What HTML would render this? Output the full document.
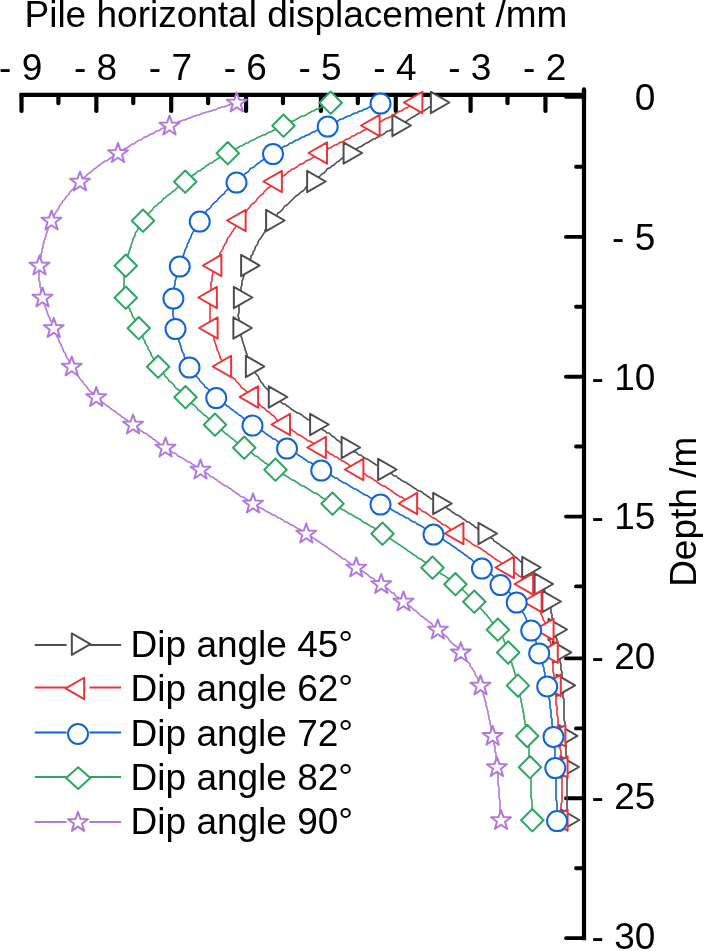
<!DOCTYPE html>
<html lang="en"><head><meta charset="utf-8"><title>Pile horizontal displacement</title>
<style>
html,body{margin:0;padding:0;background:#fff}
body{width:703px;height:951px;overflow:hidden}
svg{display:block}
</style></head><body>
<svg width="703" height="951" viewBox="0 0 703 951">
<rect width="703" height="951" fill="#fff"/>
<g stroke="#000" stroke-width="4.2" stroke-linecap="round" fill="none">
<path d="M19.4 94.8H584" stroke-linecap="butt"/>
<path d="M584 89.4V940.3" stroke-linecap="butt"/>
<path d="M584 89.4V100"/>
<path d="M21.5 95.8V110.9M58.42 95.8V103.2M96.35 95.8V110.9M133.27 95.8V103.2M171.2 95.8V110.9M208.12 95.8V103.2M246.05 95.8V110.9M282.97 95.8V103.2M320.9 95.8V110.9M357.82 95.8V103.2M395.75 95.8V110.9M432.68 95.8V103.2M470.6 95.8V110.9M507.52 95.8V103.2M545.45 95.8V110.9"/>
<path d="M584 96.7H566M584 236.9H566M584 376.8H566M584 516.6H566M584 658.4H566M584 798.3H566M584 938.1H566M584 166.7H576M584 306.8H576M584 446.5H576M584 586.4H576M584 728.4H576M584 868.2H576" stroke-width="3.9"/>
</g>
<g stroke="#4d4d4d" fill="none">
<path d="M437.05 102.5L436 103L435 104L434 105L433 105L432 106L430 107L429 107L428 108L427 109L425 110L424 111L422 111L421 112L419 113L418 114L416 115L415 116L413 117L411 118L410 119L408 120L407 121L405 122L403 123L402 124L400 125L398.55 125.5L397 126L396 127L395 128L393 128L392 129L391 130L389 131L388 131L386 132L385 133L384 134L382 135L381 135L379 136L378 137L376 138L375 139L373 139L372 140L370 141L369 142L367 143L366 143L365 144L363 145L362 146L360 147L359 147L358 148L356 149L355 150L354 151L352 151L351 152L349.75 153L348 154L347 155L345 156L344 157L343 158L341 159L340 160L339 161L337 162L336 163L335 164L334 165L332 166L331 167L330 168L329 168L327 169L326 171L325 172L324 173L322 174L321 175L320 176L319 177L317 178L316 179L315 180L313.3 181.5L312 182L311 183L310 184L309 185L308 186L306 187L305 189L304 190L303 191L301 192L300 193L299 194L298 195L296 196L295 197L294 198L293 199L291 201L290 202L289 203L288 204L287 205L285 206L284 207L283 209L282 210L281 211L280 212L278 213L277 215L276 216L275 217L274 218L273 219L272.3 220.5L271 222L270 223L269 225L268 226L267 227L266 229L265 230L265 232L264 233L263 235L262 236L261 238L260 239L259 240L258 242L258 243L257 245L256 246L255 248L255 249L254 251L253 252L253 254L252 255L251 256L251 258L250 259L249 260L249 262L248 263L248 264L247.3 265.5L247 267L246 269L245 271L245 273L244 274L244 276L243 278L243 279L242 281L242 282L242 284L242 285L241 287L241 288L241 290L241 291L241 293L240 294L240 296L240.05 297.5L240 299L240 301L239 302L239 304L239 305L239 307L239 309L239 310L239 312L239 313L238 315L238 316L239 318L239 319L239 321L239 323L239 324L239 326L239.55 328L240 329L240 331L240 332L241 334L241 335L241 337L242 338L242 340L243 342L243 343L244 345L244 346L245 348L245 350L246 351L246 353L247 354L247 356L248 358L249 359L249 361L250 362L251 364L251 365L252.05 366.5L253 368L254 369L254 371L255 372L256 374L257 375L258 376L259 378L259 379L260 380L261 382L262 383L263 384L264 386L265 387L266 388L267 389L269 391L270 392L271 393L272 394L274 396L274.95 397L276 398L277 399L278 400L279 401L281 402L282 403L283 404L285 404L286 405L287 406L289 407L290 408L291 409L293 410L294 411L296 412L297 413L299 413L300 414L302 415L303 416L304 417L306 418L307 419L309 420L310 420L311 421L313 422L314 423L315 424L316.3 424.5L318 426L319 427L321 428L322 429L323 430L325 431L326 432L327 433L329 433L330 434L331 435L332 436L334 437L335 438L336 439L337 440L339 441L340 442L341 443L342 444L344 445L345 446L346 447L347.8 447.5L349 448L350 449L352 450L353 451L354 452L356 452L357 453L358 454L359 455L361 455L362 456L363 457L365 458L366 459L367 459L369 460L370 461L372 462L373 463L375 464L376 465L378 465L379 466L381 467L383 468L384.3 469.5L385 470L387 471L388 472L389 472L390 473L392 474L393 475L394 476L396 476L397 477L398 478L400 479L401 480L403 481L404 482L405 482L407 483L408 484L410 485L411 486L413 487L414 488L416 489L417 490L419 491L420 491L422 492L423 493L424 494L426 495L427 496L429 497L430 498L431 499L433 499L434 500L435 501L437 502L438 503L439.35 503.5L441 504L442 505L444 506L445 507L447 508L448 509L450 510L451 511L452 512L454 513L455 514L457 515L458 515L459 516L461 517L462 518L463 519L465 520L466 521L467 522L469 522L470 523L471 524L473 525L474 526L475 527L477 528L478 529L479 530L481 531L482 532L483 533L484.65 533.5L486 534L487 535L489 536L490 537L491 538L493 539L494 541L496 542L497 543L499 544L500 545L501 546L503 547L504 548L506 549L507 550L509 551L510 552L511 553L513 555L514 556L515 557L517 558L518 559L519 560L520 561L521 562L523 562L524 563L525 564L526 565L527 566L527 567L528.35 567.5L530 569L532 571L534 573L535 574L536 576L537 577L537 578L538 579L539 580L539 581L540 583L540.75 584L542 586L542 587L543 588L544 590L545 591L545 593L546 594L547 596L547 598L548 600L548.55 601.5L549 603L549 604L550 606L550 607L551 609L551 611L551 613L552 614L552 616L552 618L553 620L553 621L553 623L554 625L554 626L554 628L554.7 629.5L555 631L555 633L556 635L556 636L556 638L557 639L557 641L557 642L558 644L558 645L558 647L558 649L559 650L559 652.3L559 654L559 655L560 657L560 658L560 659L560 661L560 662L561 664L561 666L561 667L561 669L561 670L562 672L562 674L562 676L562 678L562 679L562 681L563 683L562.7 685.4L563 687L563 688L563 690L563 691L563 693L563 694L563 696L563 698L564 699L564 701L564 703L564 705L564 706L564 708L564 710L564 712L564 713L564 715L564 717L564 719L564 720L565 722L565 724L565 725L565 727L565 729L565 730L565 732L565 733L565 734L565.1 735.8L565 738L565 740L565 742L565 743L566 745L566 746L566 748L566 749L566 751L566 752L566 753L566 755L566 756L566 758L566 759L566 761L566 763L567 765L566.6 767L567 768L567 770L567 771L567 773L567 774L567 776L567 778L567 780L567 781L567 783L567 785L567 787L567 789L567 791L567 793L567 795L567 796L567 798L567 800L567 802L567 804L567 805L567 807L567 809L567 810L567 812L567 813L567 815L567 816L567 817L567 818L567 819L567 820" stroke-width="1.6" stroke-linejoin="round"/>
<path d="M430.87 91.8L449.41 102.5L430.87 113.2ZM392.37 114.8L410.91 125.5L392.37 136.2ZM343.57 142.3L362.11 153L343.57 163.7ZM307.12 170.8L325.66 181.5L307.12 192.2ZM266.12 209.8L284.66 220.5L266.12 231.2ZM241.12 254.8L259.66 265.5L241.12 276.2ZM233.87 286.8L252.41 297.5L233.87 308.2ZM233.37 317.3L251.91 328L233.37 338.7ZM245.87 355.8L264.41 366.5L245.87 377.2ZM268.77 386.3L287.31 397L268.77 407.7ZM310.12 413.8L328.66 424.5L310.12 435.2ZM341.62 436.8L360.16 447.5L341.62 458.2ZM378.12 458.8L396.66 469.5L378.12 480.2ZM433.17 492.8L451.71 503.5L433.17 514.2ZM478.47 522.8L497.01 533.5L478.47 544.2ZM522.17 556.8L540.71 567.5L522.17 578.2ZM534.57 573.3L553.11 584L534.57 594.7ZM542.37 590.8L560.91 601.5L542.37 612.2ZM548.52 618.8L567.06 629.5L548.52 640.2ZM552.82 641.6L571.36 652.3L552.82 663ZM556.52 674.7L575.06 685.4L556.52 696.1ZM558.92 725.1L577.46 735.8L558.92 746.5ZM560.42 756.3L578.96 767L560.42 777.7ZM560.82 809.3L579.36 820L560.82 830.7Z" fill="#fff" stroke-width="2.0" stroke-linejoin="round"/>
</g>
<g stroke="#ee3338" fill="none">
<path d="M416.2 102.5L415 103L414 104L413 104L412 105L411 106L409 106L408 107L407 108L405 108L404 109L403 110L401 111L400 111L398 112L397 113L395 114L393 115L392 116L390 117L388 118L387 118L385 119L383 120L382 121L380 122L378 123L377 124L375 125L373.45 125.5L372 126L371 127L369 128L368 128L367 129L365 130L364 130L363 131L361 132L360 133L358 133L357 134L355 135L354 136L352 136L351 137L350 138L348 139L347 139L345 140L344 141L342 142L341 142L339 143L338 144L336 145L335 145L333 146L332 147L330 148L329 148L328 149L326 150L325 151L324 151L322 152L320.85 153L319 154L318 155L316 156L315 156L314 157L312 158L311 159L309 160L308 160L306 161L305 162L304 163L302 164L301 164L299 165L298 166L297 167L295 168L294 169L292 169L291 170L290 171L288 172L287 173L286 174L285 175L283 176L282 177L281 178L279 179L278 179L277 180L275.7 181.5L274 183L273 184L272 185L271 186L270 187L268 188L267 189L266 190L265 191L264 192L263 194L261 195L260 196L259 197L258 198L257 199L256 201L255 202L254 203L252 204L251 205L250 207L249 208L248 209L247 210L246 212L245 213L244 214L243 215L242 217L241 218L240 219L239.45 220.5L238 222L238 223L237 225L236 226L235 228L234 229L233 231L232 232L231 234L230 235L229 237L228 238L227 240L227 241L226 243L225 244L224 246L223 247L223 249L222 250L221 252L220 253L220 255L219 256L218 258L218 259L217 260L217 262L216 263L216 264L215.2 265.5L215 267L214 269L213 271L213 273L213 274L212 276L212 278L212 279L212 281L211 282L211 284L211 285L211 287L211 288L211 290L211 291L211 293L211 294L211 296L210.7 297.5L211 299L210 301L210 302L210 304L210 305L210 307L210 309L210 310L210 312L210 313L210 315L210 316L210 318L210 319L210 321L211 323L211 324L211 326L211.45 328L212 329L212 331L212 332L213 334L213 335L214 337L214 338L214 340L215 342L215 343L216 345L216 346L217 348L217 350L218 351L219 353L219 354L220 356L220 358L221 359L222 361L223 362L223 364L224 365L224.95 366.5L226 368L227 369L228 371L228 372L229 373L230 374L231 376L232 377L233 378L235 379L236 381L237 382L238 383L239 384L240 385L241 387L242 388L244 389L245 390L246 391L247 392L248 394L250 395L251 396L251.95 397L253 398L254 399L255 400L257 401L258 403L259 404L260 405L261 406L262 407L264 408L265 409L266 410L267 411L269 412L270 413L271 414L272 415L274 416L275 417L276 419L277 420L279 421L280 422L281 423L283 424L283.85 424.5L285 425L286 426L288 427L289 428L290 429L292 430L293 431L295 432L296 433L297 434L299 435L300 435L301 436L303 437L304 438L306 439L307 440L308 441L310 441L311 442L313 443L314 444L315 445L317 446L318 447L319.7 447.5L321 448L322 449L324 450L325 451L326 451L328 452L329 453L330 454L331 454L333 455L334 456L335 457L337 457L338 458L339 459L341 460L342 461L343 461L345 462L346 463L348 464L349 465L351 466L352 467L354 467L356 468L357.2 469.5L358 470L360 471L361 472L362 473L363 473L365 474L366 475L367 476L369 477L370 477L371 478L373 479L374 480L376 481L377 482L378 483L380 484L381 485L383 486L384 486L386 487L387 488L389 489L390 490L392 491L393 492L394 493L396 494L397 495L399 496L400 497L402 497L403 498L404 499L406 500L407 501L408 502L410 503L410.95 503.5L412 504L414 505L415 506L417 507L418 508L420 509L421 510L422 511L424 512L425 512L426 513L428 514L429 515L430 516L432 517L433 518L434 518L436 519L437 520L438 521L440 522L441 523L442 524L444 525L445 525L446 526L448 527L449 528L450 529L452 530L453 531L454 532L456 533L457.25 533.5L459 534L460 535L461 536L463 537L464 538L465 539L467 540L468 541L470 542L471 543L472 544L474 545L475 546L477 546L478 547L480 548L481 549L483 550L484 551L486 552L487 553L488 554L490 555L491 556L493 557L494 558L495 559L497 560L498 561L499 561L500 562L501 563L503 564L504 565L505 565L506 566L507 567L507.75 567.5L510 569L512 571L514 572L515 573L517 574L518 575L519 576L521 577L522 578L523 579L523 580L524 581L525 582L526 583L526.95 584L528 585L529 587L530 588L530 589L531 591L532 592L532 593L533 595L533 596L534 598L535 600L535.4 601.5L536 603L537 604L537 605L538 607L539 608L539 610L540 611L541 613L541 614L542 616L543 618L543 619L544 621L545 622L545 624L546 625L546 627L547 628L547.4 629.5L548 631L548 633L549 635L549 636L550 638L550 639L550 641L550 642L551 644L551 645L551 647L551 649L551 650L551.6 652.3L552 654L552 655L552 657L552 658L552 659L553 661L553 662L553 664L553 666L553 667L553 669L553 670L553 672L554 674L554 676L554 678L554 679L554 681L554 683L554.6 685.4L555 687L555 688L555 690L555 691L555 693L555 694L556 696L556 698L556 699L556 701L556 703L556 705L557 706L557 708L557 710L557 712L557 713L557 715L558 717L558 719L558 720L558 722L558 724L558 725L558 727L559 729L559 730L559 732L559 733L559 734L559.2 735.8L559 738L560 740L560 742L560 743L560 745L560 746L560 748L560 749L561 751L561 752L561 753L561 755L561 756L561 758L561 759L561 761L561 763L561 765L561.4 767L561 768L561 770L561 771L562 773L562 774L562 776L562 778L562 780L562 781L562 783L562 785L562 787L562 789L562 791L562 793L562 795L562 796L562 798L562 800L562 802L561 804L561 805L561 807L561 809L561 810L561 812L561 813L561 815L561 816L561 817L561 818L561 819L561.4 820" stroke-width="1.6" stroke-linejoin="round"/>
<path d="M422.38 91.8L403.84 102.5L422.38 113.2ZM379.63 114.8L361.09 125.5L379.63 136.2ZM327.03 142.3L308.49 153L327.03 163.7ZM281.88 170.8L263.34 181.5L281.88 192.2ZM245.63 209.8L227.09 220.5L245.63 231.2ZM221.38 254.8L202.84 265.5L221.38 276.2ZM216.88 286.8L198.34 297.5L216.88 308.2ZM217.63 317.3L199.09 328L217.63 338.7ZM231.13 355.8L212.59 366.5L231.13 377.2ZM258.13 386.3L239.59 397L258.13 407.7ZM290.03 413.8L271.49 424.5L290.03 435.2ZM325.88 436.8L307.34 447.5L325.88 458.2ZM363.38 458.8L344.84 469.5L363.38 480.2ZM417.13 492.8L398.59 503.5L417.13 514.2ZM463.43 522.8L444.89 533.5L463.43 544.2ZM513.93 556.8L495.39 567.5L513.93 578.2ZM533.13 573.3L514.59 584L533.13 594.7ZM541.58 590.8L523.04 601.5L541.58 612.2ZM553.58 618.8L535.04 629.5L553.58 640.2ZM557.78 641.6L539.24 652.3L557.78 663ZM560.78 674.7L542.24 685.4L560.78 696.1ZM565.38 725.1L546.84 735.8L565.38 746.5ZM567.58 756.3L549.04 767L567.58 777.7ZM567.58 809.3L549.04 820L567.58 830.7Z" fill="#fff" stroke-width="2.0" stroke-linejoin="round"/>
</g>
<g stroke="#1064d8" fill="none">
<path d="M380.5 102.5L380 103L379 103L378 104L377 104L376 105L375 105L373 106L372 106L371 107L369 107L368 108L366 109L365 109L363 110L362 111L360 111L358 112L357 113L355 113L353 114L351 115L350 116L348 116L346 117L344 118L343 119L341 119L339 120L338 121L336 122L334 123L332 123L331 124L329 125L327.7 125.5L326 126L325 127L323 128L322 128L320 129L319 130L317 130L316 131L314 132L313 132L311 133L310 134L308 135L307 135L305 136L304 137L302 137L301 138L299 139L298 140L296 140L295 141L293 142L292 143L290 143L289 144L288 145L286 146L285 146L283 147L282 148L281 149L279 149L278 150L277 151L275 152L274 152L273 153L271 154L270 155L268 156L267 157L265 158L264 159L263 160L261 161L260 162L259 163L257 164L256 165L255 166L254 167L252 168L251 168L250 169L249 171L248 172L246 173L245 174L244 175L243 176L242 177L240 178L239 179L238 180L236.5 181.5L235 183L234 184L233 185L232 186L231 187L230 188L228 189L227 190L226 191L225 192L224 194L222 195L221 196L220 197L219 198L218 199L217 201L215 202L214 203L213 204L212 205L211 207L210 208L209 209L207 210L206 212L205 213L204 214L203 215L202 217L202 218L201 219L199.75 220.5L199 222L198 223L197 225L196 226L195 228L194 229L194 231L193 232L192 234L191 236L191 237L190 239L189 240L189 242L188 243L187 245L187 247L186 248L185 250L185 251L184 253L184 254L183 256L183 257L182 259L182 260L181 261L181 263L180 264L179.75 265.5L179 267L179 269L178 271L177 273L177 274L177 276L176 278L176 279L175 281L175 282L175 284L175 285L174 287L174 288L174 290L174 291L174 293L174 294L174 296L173.4 297.5L173 299L173 301L173 302L173 304L173 305L173 307L173 309L173 310L173 312L173 313L173 315L173 316L174 318L174 319L174 321L174 323L175 324L175 326L175.5 328L176 329L176 331L177 332L177 334L177 335L178 337L178 338L179 340L179 342L180 343L180 345L181 346L181 348L182 350L182 351L183 353L184 354L184 356L185 358L186 359L186 361L187 362L188 364L189 365L189.5 366.5L190 368L191 369L192 371L193 372L194 373L195 374L196 376L197 377L198 378L199 379L200 381L201 382L202 383L203 384L204 385L205 387L207 388L208 389L209 390L210 391L211 392L213 394L214 395L215 396L216.25 397L217 398L219 399L220 400L221 401L222 402L223 403L225 404L226 405L227 406L229 407L230 408L231 409L233 410L234 411L235 412L237 413L238 414L239 415L241 416L242 417L243 418L245 419L246 420L247 421L249 422L250 423L251 424L252.5 424.5L254 426L255 426L257 427L258 428L260 429L261 430L262 431L264 432L265 433L266 434L268 435L269 436L271 437L272 438L273 439L275 439L276 440L277 441L279 442L280 443L282 444L283 445L284 446L286 447L287 447.5L288 448L290 449L291 450L292 451L293 452L295 453L296 453L297 454L298 455L300 456L301 457L302 457L303 458L304 459L306 460L307 461L308 462L310 462L311 463L313 464L314 465L316 466L318 467L319 468L321.25 469.5L322 470L324 471L325 472L326 472L327 473L328 474L330 475L331 475L332 476L334 477L335 478L337 478L338 479L339 480L341 481L342 482L344 483L345 483L347 484L348 485L350 486L351 487L353 488L354 489L356 489L357 490L359 491L360 492L362 493L363 494L365 495L366 495L368 496L369 497L371 498L372 499L374 500L375 500L376 501L378 502L379 503L380.5 503.5L382 504L383 505L385 506L386 507L388 508L389 508L391 509L392 510L394 511L395 512L396 512L398 513L399 514L401 515L402 515L403 516L405 517L406 518L408 518L409 519L410 520L412 521L413 522L415 522L416 523L417 524L419 525L420 525L421 526L423 527L424 528L425 529L427 529L428 530L429 531L431 532L432 533L433.5 533.5L435 534L436 535L438 536L439 537L441 538L442 539L444 540L445 541L447 542L448 543L450 544L451 545L453 546L454 547L456 548L457 549L458 550L460 551L461 552L463 553L464 554L465 555L467 556L468 557L469 558L471 559L472 560L473 561L474 562L476 563L477 564L478 564L479 565L480 566L481 567L481.9 567.5L484 569L486 571L488 572L489 573L490 574L492 575L493 576L494 577L495 578L496 579L496 580L497 581L498 582L499 583L500.5 584L502 585L503 586L504 587L505 589L507 590L508 591L509 592L510 593L511 594L512 596L513 597L514 598L516 600L516.7 601.5L518 603L518 604L519 605L520 607L521 608L522 610L522 611L523 613L524 614L525 616L526 618L526 619L527 621L528 622L529 624L529 625L530 627L531 628L531.2 629.5L532 631L533 633L533 634L534 636L534 637L535 638L535 640L536 641L536 643L537 644L537 646L538 647L538 649L539 650L539.2 652.3L540 654L540 655L540 656L541 658L541 659L542 661L542 662L542 663L543 665L543 666L544 668L544 669L544 671L545 673L545 674L545 676L546 678L546 680L547 682L547 683L547.2 685.4L547 687L548 688L548 690L548 691L548 693L549 694L549 696L549 698L549 699L550 701L550 703L550 705L550 706L550 708L551 710L551 712L551 713L551 715L551 717L552 719L552 720L552 722L552 724L552 725L553 727L553 729L553 730L553 732L553 733L553 734L553.5 735.8L554 738L554 740L554 742L554 743L554 745L554 746L554 748L555 749L555 751L555 752L555 753L555 755L555 756L555 758L555 759L555 761L555 763L555 765L555.3 767L555 768L555 770L555 771L556 773L556 774L556 776L556 778L556 780L556 781L556 783L556 785L556 787L556 789L556 791L556 793L556 795L556 796L556 798L556 800L557 802L557 804L557 805L557 807L557 809L557 810L557 812L557 813L557 815L557 816L557 817L557 818L557 819L557.1 820" stroke-width="1.6" stroke-linejoin="round"/>
<path d="M370.5 103.6a10 10 0 1 0 20 0a10 10 0 1 0 -20 0ZM317.7 126.6a10 10 0 1 0 20 0a10 10 0 1 0 -20 0ZM263 154.1a10 10 0 1 0 20 0a10 10 0 1 0 -20 0ZM226.5 182.6a10 10 0 1 0 20 0a10 10 0 1 0 -20 0ZM189.75 221.6a10 10 0 1 0 20 0a10 10 0 1 0 -20 0ZM169.75 266.6a10 10 0 1 0 20 0a10 10 0 1 0 -20 0ZM163.4 298.6a10 10 0 1 0 20 0a10 10 0 1 0 -20 0ZM165.5 329.1a10 10 0 1 0 20 0a10 10 0 1 0 -20 0ZM179.5 367.6a10 10 0 1 0 20 0a10 10 0 1 0 -20 0ZM206.25 398.1a10 10 0 1 0 20 0a10 10 0 1 0 -20 0ZM242.5 425.6a10 10 0 1 0 20 0a10 10 0 1 0 -20 0ZM277 448.6a10 10 0 1 0 20 0a10 10 0 1 0 -20 0ZM311.25 470.6a10 10 0 1 0 20 0a10 10 0 1 0 -20 0ZM370.5 504.6a10 10 0 1 0 20 0a10 10 0 1 0 -20 0ZM423.5 534.6a10 10 0 1 0 20 0a10 10 0 1 0 -20 0ZM471.9 568.6a10 10 0 1 0 20 0a10 10 0 1 0 -20 0ZM490.5 585.1a10 10 0 1 0 20 0a10 10 0 1 0 -20 0ZM506.7 602.6a10 10 0 1 0 20 0a10 10 0 1 0 -20 0ZM521.2 630.6a10 10 0 1 0 20 0a10 10 0 1 0 -20 0ZM529.2 653.4a10 10 0 1 0 20 0a10 10 0 1 0 -20 0ZM537.2 686.5a10 10 0 1 0 20 0a10 10 0 1 0 -20 0ZM543.5 736.9a10 10 0 1 0 20 0a10 10 0 1 0 -20 0ZM545.3 768.1a10 10 0 1 0 20 0a10 10 0 1 0 -20 0ZM547.1 821.1a10 10 0 1 0 20 0a10 10 0 1 0 -20 0Z" fill="#fff" stroke-width="2.0" stroke-linejoin="round"/>
</g>
<g stroke="#2ea560" fill="none">
<path d="M330.7 102.5L330 103L329 103L328 104L327 104L326 105L325 105L324 106L322 107L321 107L320 108L318 109L317 109L315 110L314 111L312 111L311 112L309 113L307 114L306 115L304 116L302 116L300 117L299 118L297 119L295 120L294 121L292 121L290 122L288 123L287 124L285 125L283.5 125.5L282 126L281 127L279 128L278 128L276 129L275 130L274 130L272 131L271 132L269 132L268 133L266 134L265 135L263 135L261 136L260 137L258 137L257 138L255 139L254 140L252 140L251 141L249 142L248 143L246 143L245 144L243 145L242 146L240 146L239 147L237 148L236 149L234 149L233 150L232 151L230 152L229 152L227.75 153L226 154L225 155L223 156L222 157L220 157L219 158L217 159L216 160L214 161L213 162L212 163L210 163L209 164L208 165L206 166L205 167L204 168L202 169L201 170L200 171L198 171L197 172L196 173L195 174L193 175L192 176L191 177L189 178L188 179L187 180L185.25 181.5L184 182L183 183L182 184L180 185L179 186L178 187L176 189L175 190L174 191L172 192L171 193L170 194L168 195L167 196L166 197L165 198L163 199L162 201L161 202L159 203L158 204L157 205L156 206L154 207L153 209L152 210L151 211L150 212L149 213L148 215L147 216L146 217L145 218L144 219L143 220.5L142 222L141 223L140 225L139 226L138 228L138 229L137 231L136 232L135 234L135 236L134 237L133 239L133 240L132 242L132 243L131 245L131 247L130 248L130 250L129 251L129 253L128 254L128 256L128 257L127 259L127 260L127 261L126 263L126 264L125.75 265.5L125 267L125 269L125 271L124 273L124 274L124 276L124 278L124 279L124 281L124 282L124 284L124 285L124 287L124 288L124 290L125 291L125 293L125 294L125 296L125.75 297.5L126 299L126 301L127 302L127 304L128 305L128 307L129 308L130 309L130 311L131 312L132 314L132 315L133 317L134 318L135 320L136 321L136 323L137 325L138 326L138.75 328L139 329L140 331L141 332L141 334L142 335L143 337L143 338L144 340L145 341L145 343L146 344L147 346L148 347L148 349L149 350L150 352L151 353L151 355L152 356L153 358L154 359L155 361L155 362L156 364L157 365L158.1 366.5L159 368L160 369L161 371L162 372L163 373L164 374L165 376L166 377L167 378L168 379L169 381L171 382L172 383L173 384L174 385L175 387L176 388L177 389L179 390L180 391L181 392L182 394L183 395L184 396L185.5 397L187 398L188 399L189 400L190 402L191 403L192 404L194 405L195 406L196 407L197 408L198 410L200 411L201 412L202 413L203 414L204 415L206 416L207 417L208 418L209 419L210 420L211 421L213 422L214 423L215 424.5L216 426L218 427L219 428L220 429L221 430L223 431L224 432L225 433L226 434L228 435L229 436L230 437L231 438L233 439L234 440L235 441L236 442L238 443L239 444L240 445L242 446L243 447L244.25 447.5L246 448L247 449L248 450L249 451L250 452L252 453L253 454L254 455L255 456L256 456L258 457L259 458L260 459L261 460L263 461L264 462L265 463L267 464L269 465L270 466L272 467L274 468L275.5 469.5L277 470L278 471L279 472L280 472L281 473L283 474L284 475L285 475L286 476L288 477L289 478L291 479L292 480L293 480L295 481L296 482L298 483L299 484L301 485L302 486L304 486L305 487L307 488L308 489L310 490L311 491L313 492L314 493L316 493L317 494L319 495L320 496L321 497L323 498L324 499L326 499L327 500L328 501L330 502L331 503L332.5 503.5L334 504L335 505L337 506L338 507L340 508L341 509L343 510L344 510L345 511L347 512L348 513L350 514L351 514L352 515L354 516L355 517L357 518L358 518L359 519L361 520L362 521L363 522L365 523L366 523L367 524L369 525L370 526L372 527L373 527L374 528L376 529L377 530L378 531L380 532L381 533L382.5 533.5L384 534L385 535L387 536L388 537L389 538L391 539L392 540L394 541L395 542L397 543L398 544L400 545L401 546L403 547L404 548L406 549L407 550L408 551L410 552L411 553L413 554L414 555L416 556L417 557L418 558L420 559L421 559L422 560L423 561L425 562L426 563L427 564L428 565L429 565L430 566L431 567L432.5 567.5L435 569L436 570L438 571L440 573L441 574L443 575L444 575L445 576L446 577L448 578L449 579L450 580L451 580L452 581L453 582L454 583L455.4 584L457 585L458 586L459 587L460 588L461 589L463 590L464 591L465 592L466 593L467 594L468 595L469 596L471 598L472 599L473 600L474.3 601.5L475 603L476 604L477 605L478 606L480 607L481 609L482 610L483 611L484 612L485 614L487 615L488 617L489 618L490 619L491 621L492 622L493 623L494 625L495 626L496 627L497 628L497.9 629.5L499 631L500 633L501 634L502 636L502 637L503 638L504 640L504 641L505 643L505 644L506 646L506 647L507 649L508 650L508.2 652.3L509 654L509 655L510 656L510 658L511 659L511 661L511 662L512 663L512 665L513 666L513 668L514 669L514 671L515 673L515 674L516 676L516 678L517 680L517 682L517 683L517.9 685.4L518 687L519 688L519 690L519 691L519 693L520 694L520 696L520 697L521 699L521 701L521 702L522 704L522 706L522 707L523 709L523 711L523 712L524 714L524 716L524 718L524 719L525 721L525 723L525 724L526 726L526 727L526 729L526 730L527 732L527 733L527 734L527.2 735.8L528 738L528 740L528 742L528 743L528 745L529 746L529 748L529 749L529 751L529 752L529 753L529 755L529 756L529 758L530 759L530 761L530 763L530 765L530 767L530 768L530 770L530 771L530 773L530 774L530 776L531 778L531 780L531 781L531 783L531 785L531 787L531 789L531 791L531 793L531 795L531 796L531 798L532 800L532 802L532 804L532 805L532 807L532 809L532 810L532 812L532 813L532 815L532 816L532 817L532 818L532 819L532.3 820" stroke-width="1.6" stroke-linejoin="round"/>
<path d="M330.7 91.5L341.9 102.7L330.7 113.9L319.5 102.7ZM283.5 114.5L294.7 125.7L283.5 136.9L272.3 125.7ZM227.75 142L238.95 153.2L227.75 164.4L216.55 153.2ZM185.25 170.5L196.45 181.7L185.25 192.9L174.05 181.7ZM143 209.5L154.2 220.7L143 231.9L131.8 220.7ZM125.75 254.5L136.95 265.7L125.75 276.9L114.55 265.7ZM125.75 286.5L136.95 297.7L125.75 308.9L114.55 297.7ZM138.75 317L149.95 328.2L138.75 339.4L127.55 328.2ZM158.1 355.5L169.3 366.7L158.1 377.9L146.9 366.7ZM185.5 386L196.7 397.2L185.5 408.4L174.3 397.2ZM215 413.5L226.2 424.7L215 435.9L203.8 424.7ZM244.25 436.5L255.45 447.7L244.25 458.9L233.05 447.7ZM275.5 458.5L286.7 469.7L275.5 480.9L264.3 469.7ZM332.5 492.5L343.7 503.7L332.5 514.9L321.3 503.7ZM382.5 522.5L393.7 533.7L382.5 544.9L371.3 533.7ZM432.5 556.5L443.7 567.7L432.5 578.9L421.3 567.7ZM455.4 573L466.6 584.2L455.4 595.4L444.2 584.2ZM474.3 590.5L485.5 601.7L474.3 612.9L463.1 601.7ZM497.9 618.5L509.1 629.7L497.9 640.9L486.7 629.7ZM508.2 641.3L519.4 652.5L508.2 663.7L497 652.5ZM517.9 674.4L529.1 685.6L517.9 696.8L506.7 685.6ZM527.2 724.8L538.4 736L527.2 747.2L516 736ZM530 756L541.2 767.2L530 778.4L518.8 767.2ZM532.3 809L543.5 820.2L532.3 831.4L521.1 820.2Z" fill="#fff" stroke-width="2.0" stroke-linejoin="round"/>
</g>
<g stroke="#b078de" fill="none">
<path d="M236.75 102.5L236 103L235 103L234 103L233 104L232 104L231 104L230 105L228 105L227 106L226 106L224 107L223 107L221 107L220 108L218 108L217 109L215 110L213 110L212 111L210 111L208 112L206 112L205 113L203 113L201 114L199 115L197 115L196 116L194 116L192 117L190 118L189 118L187 119L185 120L183 120L182 121L180 121L178 122L177 123L175 123L174 124L172 124L171 125L169.5 125.5L168 126L166 127L165 128L163 128L161 129L160 130L158 131L157 131L155 132L154 133L152 134L151 134L149 135L148 136L146 137L145 137L143 138L142 139L141 140L139 140L138 141L136 142L135 143L134 144L132 144L131 145L130 146L128 147L127 148L126 148L124 149L123 150L122 151L121 151L119 152L118 153L116 154L115 155L113 156L112 157L111 158L109 159L108 160L106 161L105 161L104 162L102 163L101 164L100 165L98 166L97 167L96 168L94 169L93 170L92 171L91 172L89 173L88 174L87 175L86 176L85 177L83 178L82 179L81 180L80 181.5L79 183L78 184L77 185L76 186L75 187L73 189L72 190L71 191L70 192L69 194L68 195L67 196L66 197L65 199L64 200L63 201L62 203L61 204L60 205L59 207L59 208L58 209L57 211L56 212L55 214L54 215L54 216L53 218L52 219L51.5 220.5L51 222L50 223L50 225L49 227L48 228L48 230L47 231L47 233L46 234L46 236L45 238L45 239L44 241L44 243L43 244L43 246L43 248L42 249L42 251L42 252L41 254L41 255L41 257L40 258L40 260L40 261L40 263L40 264L39.5 265.5L39 267L39 269L39 271L39 273L39 274L39 276L39 278L39 279L39 281L40 282L40 284L40 285L40 287L41 288L41 290L41 291L41 293L42 294L42 296L42.5 297.5L43 299L43 301L44 302L44 304L45 305L45 307L46 308L46 309L47 311L47 312L48 314L48 315L49 317L50 318L50 320L51 321L52 323L52 325L53 326L53.75 328L54 329L55 331L55 332L56 334L57 335L57 337L58 338L59 340L59 341L60 343L61 344L61 346L62 347L63 349L63 350L64 352L65 353L66 355L66 356L67 358L68 359L69 361L69 362L70 364L71 365L71.75 366.5L73 368L74 369L74 371L75 372L76 373L77 375L78 376L79 377L80 379L81 380L82 381L83 382L84 384L85 385L86 386L87 387L88 389L89 390L90 391L91 392L93 393L94 395L95 396L96.25 397L97 398L99 399L100 400L101 401L102 402L103 403L105 404L106 405L107 406L109 407L110 408L111 409L113 410L114 411L116 412L117 413L118 414L120 415L121 416L122 417L124 418L125 419L127 420L128 421L129 422L130 423L132 424L133 424.5L134 426L136 427L137 428L139 429L140 430L141 431L143 432L144 433L145 433L147 434L148 435L149 436L151 437L152 438L153 439L155 440L156 441L157 442L159 443L160 444L161 445L163 446L164 447L165.5 447.5L167 448L168 449L169 450L171 451L172 452L173 453L175 453L176 454L177 455L178 456L180 457L181 457L182 458L184 459L185 460L187 461L188 462L189 462L191 463L192 464L194 465L195 466L197 467L199 468L200.5 469.5L202 470L203 471L204 472L205 473L206 473L208 474L209 475L210 476L211 477L213 477L214 478L215 479L217 480L218 481L219 482L221 483L222 484L224 485L225 486L226 486L228 487L229 488L231 489L232 490L233 491L235 492L236 493L238 494L239 495L240 496L242 497L243 497L245 498L246 499L248 500L249 501L250 502L252 503L253 503.5L254 504L256 505L257 506L259 507L260 508L261 508L263 509L264 510L266 511L267 512L268 512L270 513L271 514L273 515L274 515L276 516L277 517L278 518L280 518L281 519L283 520L284 521L285 522L287 522L288 523L290 524L291 525L292 525L294 526L295 527L297 528L298 529L299 529L301 530L302 531L304 532L305 533L306.25 533.5L308 534L309 535L310 536L312 537L313 538L315 539L316 540L318 541L319 542L321 543L322 544L324 545L325 546L327 547L328 548L329 549L331 550L332 551L334 552L335 553L337 554L338 555L339 556L341 557L342 558L343 559L345 559L346 560L347 561L348 562L350 563L351 564L352 565L353 565L354 566L355 567L356.25 567.5L358 569L360 570L362 571L364 572L365 573L367 574L368 575L369 576L370 577L372 578L373 578L374 579L375 580L376 581L378 581L379 582L380 583L381.25 584L383 585L384 586L385 587L386 588L388 589L389 590L390 591L391 592L392 593L394 593L395 595L396 596L397 597L399 598L400 599L402 600L403.5 601.5L405 602L406 603L407 604L408 605L409 606L411 607L412 608L413 609L414 610L416 611L417 612L419 614L420 615L421 616L423 617L424 618L425 619L427 620L428 621L429 622L431 623L432 624L433 626L434 627L436 628L437 629L437.8 629.5L439 631L441 632L442 633L443 634L444 635L446 636L447 637L448 638L449 640L450 641L451 642L452 643L453 644L454 645L456 646L457 647L458 648L459 650L460 651L460.8 652.3L462 653L463 655L463 656L464 657L465 658L466 659L467 661L468 662L469 663L470 664L470 666L471 667L472 668L473 670L474 671L475 673L475 674L476 676L477 677L478 679L478 680L479 682L480 684L480.5 685.4L481 687L481 688L482 690L482 691L483 693L483 694L484 696L484 697L485 699L485 701L486 702L486 704L486 706L487 707L487 709L488 711L488 712L488 714L489 716L489 718L489 719L490 721L490 723L490 724L491 726L491 727L491 729L492 730L492 732L492 733L492 734L492.6 735.8L493 738L493 740L494 742L494 743L494 745L495 746L495 748L495 749L495 751L495 752L496 753L496 755L496 756L496 758L496 759L496 761L496 763L497 765L496.9 767L497 768L497 770L497 771L497 773L498 774L498 776L498 778L498 780L498 781L498 783L498 785L499 787L499 789L499 791L499 793L499 795L499 796L499 798L500 800L500 802L500 804L500 805L500 807L500 809L500 810L500 812L501 813L501 815L501 816L501 817L501 818L501 819L501 820" stroke-width="1.6" stroke-linejoin="round"/>
<path d="M236.75 92.5L239.22 99.6L246.74 99.76L240.74 104.3L242.92 111.49L236.75 107.2L230.58 111.49L232.76 104.3L226.76 99.76L234.28 99.6ZM169.5 115.5L171.97 122.6L179.49 122.76L173.49 127.3L175.67 134.49L169.5 130.2L163.33 134.49L165.51 127.3L159.51 122.76L167.03 122.6ZM118 143L120.47 150.1L127.99 150.26L121.99 154.8L124.17 161.99L118 157.7L111.83 161.99L114.01 154.8L108.01 150.26L115.53 150.1ZM80 171.5L82.47 178.6L89.99 178.76L83.99 183.3L86.17 190.49L80 186.2L73.83 190.49L76.01 183.3L70.01 178.76L77.53 178.6ZM51.5 210.5L53.97 217.6L61.49 217.76L55.49 222.3L57.67 229.49L51.5 225.2L45.33 229.49L47.51 222.3L41.51 217.76L49.03 217.6ZM39.5 255.5L41.97 262.6L49.49 262.76L43.49 267.3L45.67 274.49L39.5 270.2L33.33 274.49L35.51 267.3L29.51 262.76L37.03 262.6ZM42.5 287.5L44.97 294.6L52.49 294.76L46.49 299.3L48.67 306.49L42.5 302.2L36.33 306.49L38.51 299.3L32.51 294.76L40.03 294.6ZM53.75 318L56.22 325.1L63.74 325.26L57.74 329.8L59.92 336.99L53.75 332.7L47.58 336.99L49.76 329.8L43.76 325.26L51.28 325.1ZM71.75 356.5L74.22 363.6L81.74 363.76L75.74 368.3L77.92 375.49L71.75 371.2L65.58 375.49L67.76 368.3L61.76 363.76L69.28 363.6ZM96.25 387L98.72 394.1L106.24 394.26L100.24 398.8L102.42 405.99L96.25 401.7L90.08 405.99L92.26 398.8L86.26 394.26L93.78 394.1ZM133 414.5L135.47 421.6L142.99 421.76L136.99 426.3L139.17 433.49L133 429.2L126.83 433.49L129.01 426.3L123.01 421.76L130.53 421.6ZM165.5 437.5L167.97 444.6L175.49 444.76L169.49 449.3L171.67 456.49L165.5 452.2L159.33 456.49L161.51 449.3L155.51 444.76L163.03 444.6ZM200.5 459.5L202.97 466.6L210.49 466.76L204.49 471.3L206.67 478.49L200.5 474.2L194.33 478.49L196.51 471.3L190.51 466.76L198.03 466.6ZM253 493.5L255.47 500.6L262.99 500.76L256.99 505.3L259.17 512.49L253 508.2L246.83 512.49L249.01 505.3L243.01 500.76L250.53 500.6ZM306.25 523.5L308.72 530.6L316.24 530.76L310.24 535.3L312.42 542.49L306.25 538.2L300.08 542.49L302.26 535.3L296.26 530.76L303.78 530.6ZM356.25 557.5L358.72 564.6L366.24 564.76L360.24 569.3L362.42 576.49L356.25 572.2L350.08 576.49L352.26 569.3L346.26 564.76L353.78 564.6ZM381.25 574L383.72 581.1L391.24 581.26L385.24 585.8L387.42 592.99L381.25 588.7L375.08 592.99L377.26 585.8L371.26 581.26L378.78 581.1ZM403.5 591.5L405.97 598.6L413.49 598.76L407.49 603.3L409.67 610.49L403.5 606.2L397.33 610.49L399.51 603.3L393.51 598.76L401.03 598.6ZM437.8 619.5L440.27 626.6L447.79 626.76L441.79 631.3L443.97 638.49L437.8 634.2L431.63 638.49L433.81 631.3L427.81 626.76L435.33 626.6ZM460.8 642.3L463.27 649.4L470.79 649.56L464.79 654.1L466.97 661.29L460.8 657L454.63 661.29L456.81 654.1L450.81 649.56L458.33 649.4ZM480.5 675.4L482.97 682.5L490.49 682.66L484.49 687.2L486.67 694.39L480.5 690.1L474.33 694.39L476.51 687.2L470.51 682.66L478.03 682.5ZM492.6 725.8L495.07 732.9L502.59 733.06L496.59 737.6L498.77 744.79L492.6 740.5L486.43 744.79L488.61 737.6L482.61 733.06L490.13 732.9ZM496.9 757L499.37 764.1L506.89 764.26L500.89 768.8L503.07 775.99L496.9 771.7L490.73 775.99L492.91 768.8L486.91 764.26L494.43 764.1ZM501 810L503.47 817.1L510.99 817.26L504.99 821.8L507.17 828.99L501 824.7L494.83 828.99L497.01 821.8L491.01 817.26L498.53 817.1Z" fill="#fff" stroke-width="2.0" stroke-linejoin="round"/>
</g>
<g stroke="#4d4d4d" fill="none">
<path d="M34.8 645H66.5M89.5 645H121.1" stroke-width="2"/>
<path d="M71.82 633.45L90.36 644.15L71.82 654.85Z" fill="#fff" stroke-width="2.0" stroke-linejoin="round"/>
</g>
<g stroke="#ee3338" fill="none">
<path d="M34.8 687.6H66.5M89.5 687.6H121.1" stroke-width="2"/>
<path d="M84.18 677.75L65.64 688.45L84.18 699.15Z" fill="#fff" stroke-width="2.0" stroke-linejoin="round"/>
</g>
<g stroke="#1064d8" fill="none">
<path d="M34.8 732.5H66.5M89.5 732.5H121.1" stroke-width="2"/>
<path d="M68 734a10 10 0 1 0 20 0a10 10 0 1 0 -20 0Z" fill="#fff" stroke-width="2.0" stroke-linejoin="round"/>
</g>
<g stroke="#2ea560" fill="none">
<path d="M34.8 777.1H66.5M89.5 777.1H121.1" stroke-width="2"/>
<path d="M78.2 767.2L90.3 778.1L78.2 789L66.1 778.1Z" fill="#fff" stroke-width="2.0" stroke-linejoin="round"/>
</g>
<g stroke="#b078de" fill="none">
<path d="M34.8 821.9H66.5M89.5 821.9H121.1" stroke-width="2"/>
<path d="M78 811.9L80.47 819L87.99 819.16L81.99 823.7L84.17 830.89L78 826.6L71.83 830.89L74.01 823.7L68.01 819.16L75.53 819Z" fill="#fff" stroke-width="2.0" stroke-linejoin="round"/>
</g>
<g font-family="'Liberation Sans', Arial, sans-serif" font-size="37" fill="#000">
<text x="24.5" y="26.7">Pile horizontal displacement /mm</text>
<text x="20.7" y="79.8" text-anchor="middle">- 9</text>
<text x="95.55" y="79.8" text-anchor="middle">- 8</text>
<text x="170.4" y="79.8" text-anchor="middle">- 7</text>
<text x="245.25" y="79.8" text-anchor="middle">- 6</text>
<text x="320.1" y="79.8" text-anchor="middle">- 5</text>
<text x="394.95" y="79.8" text-anchor="middle">- 4</text>
<text x="469.8" y="79.8" text-anchor="middle">- 3</text>
<text x="544.65" y="79.8" text-anchor="middle">- 2</text>
<text x="655.3" y="110" text-anchor="end">0</text>
<text x="655.3" y="249.8" text-anchor="end">- 5</text>
<text x="655.3" y="389.6" text-anchor="end">- 10</text>
<text x="655.3" y="529.4" text-anchor="end">- 15</text>
<text x="655.3" y="669.2" text-anchor="end">- 20</text>
<text x="655.3" y="809" text-anchor="end">- 25</text>
<text x="655.3" y="948.8" text-anchor="end">- 30</text>
<text transform="translate(696 511.8) rotate(-90)" text-anchor="middle">Depth /m</text>
<text x="130.6" y="656.8">Dip angle 45°</text>
<text x="130.6" y="701.1">Dip angle 62°</text>
<text x="130.6" y="745.6">Dip angle 72°</text>
<text x="130.6" y="790.2">Dip angle 82°</text>
<text x="130.6" y="833.7">Dip angle 90°</text>
</g>
</svg>
</body></html>
